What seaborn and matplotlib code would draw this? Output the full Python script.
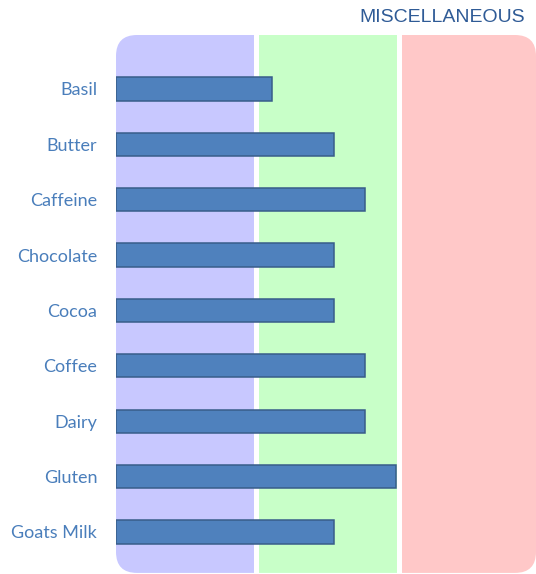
import matplotlib
matplotlib.use("Agg")
import matplotlib.pyplot as plt
from matplotlib.patches import FancyBboxPatch
import seaborn as sns
import pandas as pd

# data
foods = ["Basil", "Butter", "Caffeine", "Chocolate", "Cocoa",
         "Coffee", "Dairy", "Gluten", "Goats Milk"]
scores = [10, 14, 16, 14, 14, 16, 16, 18, 14]
title = "MISCELLANEOUS"

# background bands (start, end, colour)
bands = [(0, 8.85, "#c8c8ff"), (9.17, 18.07, "#c8ffc8"), (18.4, 27, "#ffc8c8")]

df = pd.DataFrame({"food": foods, "score": scores})

sns.set_theme(style="white")
plt.rcParams["font.family"] = ["Lato", "DejaVu Sans"]

fig = plt.figure(figsize=(5.36, 5.74), dpi=100)
ax = fig.add_axes([116/536, 0.0, 420/536, 539/574])

# rounded clip shape for bands
clip = FancyBboxPatch((0, 0.002), 1, 0.998, boxstyle="round,pad=0,rounding_size=0.05",
                      mutation_aspect=420/539, transform=ax.transAxes,
                      facecolor="none", edgecolor="none")
ax.add_patch(clip)
for x0, x1, c in bands:
    sp = ax.axvspan(x0, x1, color=c, zorder=0, lw=0)
    sp.set_clip_path(clip)

sns.barplot(data=df, x="score", y="food", orient="h", width=0.42,
            color="#4f81bd", saturation=1, edgecolor="#385d8a",
            linewidth=1.1, ax=ax, zorder=3)

ax.set_xlim(0, 27)
ax.set_ylim(8.76, -0.975)
ax.set_xlabel("")
ax.set_ylabel("")
ax.set_xticks([])
for s in ax.spines.values():
    s.set_visible(False)
ax.tick_params(axis="y", length=0, pad=13.5, labelsize=13, labelcolor="#4a7ebb")

fig.text(525/536, 1 - 17/574, title, ha="right", va="center",
         fontsize=14, color="#2f5b96", family=["Liberation Sans"])

fig.savefig("out.png", dpi=100)
